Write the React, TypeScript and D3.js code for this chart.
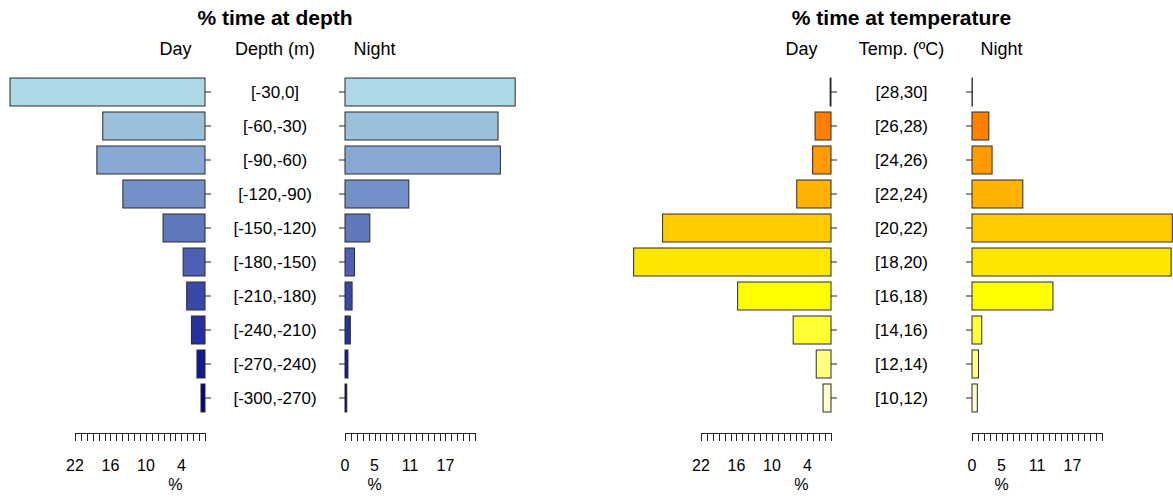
import React, { useEffect, useRef } from 'react'
import * as d3 from 'd3'

// depth classes (top to bottom) and % of time
const depthBins = ['[-30,0]', '[-60,-30)', '[-90,-60)', '[-120,-90)', '[-150,-120)', '[-180,-150)', '[-210,-180)', '[-240,-210)', '[-270,-240)', '[-300,-270)']
const depthDay = [33.0, 17.3, 18.3, 13.9, 7.1, 3.7, 3.1, 2.3, 1.36, 0.68]
const depthNight = [28.8, 25.9, 26.3, 10.8, 4.2, 1.6, 1.2, 0.9, 0.5, 0.3]

const tempBins = ['[28,30]', '[26,28)', '[24,26)', '[22,24)', '[20,22)', '[18,20)', '[16,18)', '[14,16)', '[12,14)', '[10,12)']
const tempDay = [0.15, 2.7, 3.1, 5.8, 28.5, 33.4, 15.8, 6.4, 2.5, 1.35]
const tempNight = [0.05, 2.85, 3.4, 8.6, 33.9, 33.7, 13.7, 1.65, 1.1, 0.9]
const tempColors = ['#4a2a00', '#ff8000', '#ff9a00', '#ffb300', '#ffcc00', '#ffe600', '#ffff00', '#ffff33', '#ffff80', '#ffffcc']

const axisTicks = d3.range(0, 23)
const dayTickLabels = [22, 16, 10, 4]
const nightTickLabels = [0, 5, 11, 17]

const W = 1173, H = 497
const FONT = '"Liberation Sans", Arial, sans-serif'

export default function App() {
  const ref = useRef<SVGSVGElement>(null)

  useEffect(() => {
    const svg = d3.select(ref.current)
    svg.selectAll('*').remove()

    const depthColors = d3.range(10).map(i => d3.interpolateRgb('lightblue', 'darkblue')(i / 9))

    drawPanel(svg, {
      zeroDay: 205, zeroNight: 345,
      title: '% time at depth', midLabel: 'Depth (m)',
      bins: depthBins, day: depthDay, night: depthNight, colors: depthColors
    })
    drawPanel(svg, {
      zeroDay: 831, zeroNight: 972,
      title: '% time at temperature', midLabel: 'Temp. (ºC)',
      bins: tempBins, day: tempDay, night: tempNight, colors: tempColors
    })
  }, [])

  return (
    <svg ref={ref} width={W} height={H}
      style={{ position: 'absolute', left: 0, top: 0, background: '#fff' }} />
  )
}

function drawPanel(svg: any, p: any) {
  const g = svg.append('g').style('font-family', FONT)

  // 22 % spans 130 px on each side
  const xDay = d3.scaleLinear().domain([0, 22]).range([p.zeroDay, p.zeroDay - 130])
  const xNight = d3.scaleLinear().domain([0, 22]).range([p.zeroNight, p.zeroNight + 130])
  const y = d3.scaleBand().domain(p.bins).range([75, 415]).paddingInner(6 / 34).paddingOuter(3 / 34)
  const mid = (p.zeroDay + p.zeroNight) / 2

  // headings
  g.append('text').attr('x', mid).attr('y', 25).attr('text-anchor', 'middle')
    .style('font-size', '21px').style('font-weight', 'bold').text(p.title)
  const heads = [[xDay(5), 'Day'], [mid, p.midLabel], [xNight(5), 'Night']]
  g.selectAll('.head').data(heads).enter().append('text')
    .attr('x', (d: any) => d[0]).attr('y', 55).attr('text-anchor', 'middle')
    .style('font-size', '18px').text((d: any) => d[1])

  // day bars (to the left)
  g.selectAll('.dbar').data(p.day).enter().append('rect')
    .attr('x', (d: number) => xDay(d))
    .attr('y', (d: number, i: number) => y(p.bins[i]))
    .attr('width', (d: number) => xDay(0) - xDay(d))
    .attr('height', y.bandwidth())
    .style('fill', (d: number, i: number) => p.colors[i])
    .style('stroke', '#2b2b2b').style('stroke-width', 1)

  // night bars (to the right)
  g.selectAll('.nbar').data(p.night).enter().append('rect')
    .attr('x', xNight(0))
    .attr('y', (d: number, i: number) => y(p.bins[i]))
    .attr('width', (d: number) => xNight(d) - xNight(0))
    .attr('height', y.bandwidth())
    .style('fill', (d: number, i: number) => p.colors[i])
    .style('stroke', '#2b2b2b').style('stroke-width', 1)

  // class ticks + labels
  const rows = g.selectAll('.row').data(p.bins).enter().append('g')
    .attr('transform', (d: string) => 'translate(0,' + (y(d) + y.bandwidth() / 2) + ')')
  rows.append('line').attr('x1', p.zeroDay).attr('x2', p.zeroDay + 6).style('stroke', '#222')
  rows.append('line').attr('x1', p.zeroNight - 6).attr('x2', p.zeroNight).style('stroke', '#222')
  rows.append('text').attr('x', mid).attr('y', 6).attr('text-anchor', 'middle')
    .style('font-size', '17px').text((d: string) => d)

  // % axes at the bottom
  const axes = [[xDay, dayTickLabels], [xNight, nightTickLabels]]
  axes.forEach((a: any) => {
    const x = a[0]
    const ax = g.append('g')
    ax.append('line').attr('x1', x(0)).attr('x2', x(22)).attr('y1', 433.5).attr('y2', 433.5).style('stroke', '#222')
    ax.selectAll('.tk').data(axisTicks).enter().append('line')
      .attr('x1', (d: number) => Math.round(x(d)) + 0.5).attr('x2', (d: number) => Math.round(x(d)) + 0.5)
      .attr('y1', 433).attr('y2', 441).style('stroke', '#222')
    ax.selectAll('.tl').data(a[1]).enter().append('text')
      .attr('x', (d: number) => x(d)).attr('y', 471).attr('text-anchor', 'middle')
      .style('font-size', '16px').text((d: number) => d)
    ax.append('text').attr('x', x(5)).attr('y', 490).attr('text-anchor', 'middle')
      .style('font-size', '16px').text('%')
  })
}
